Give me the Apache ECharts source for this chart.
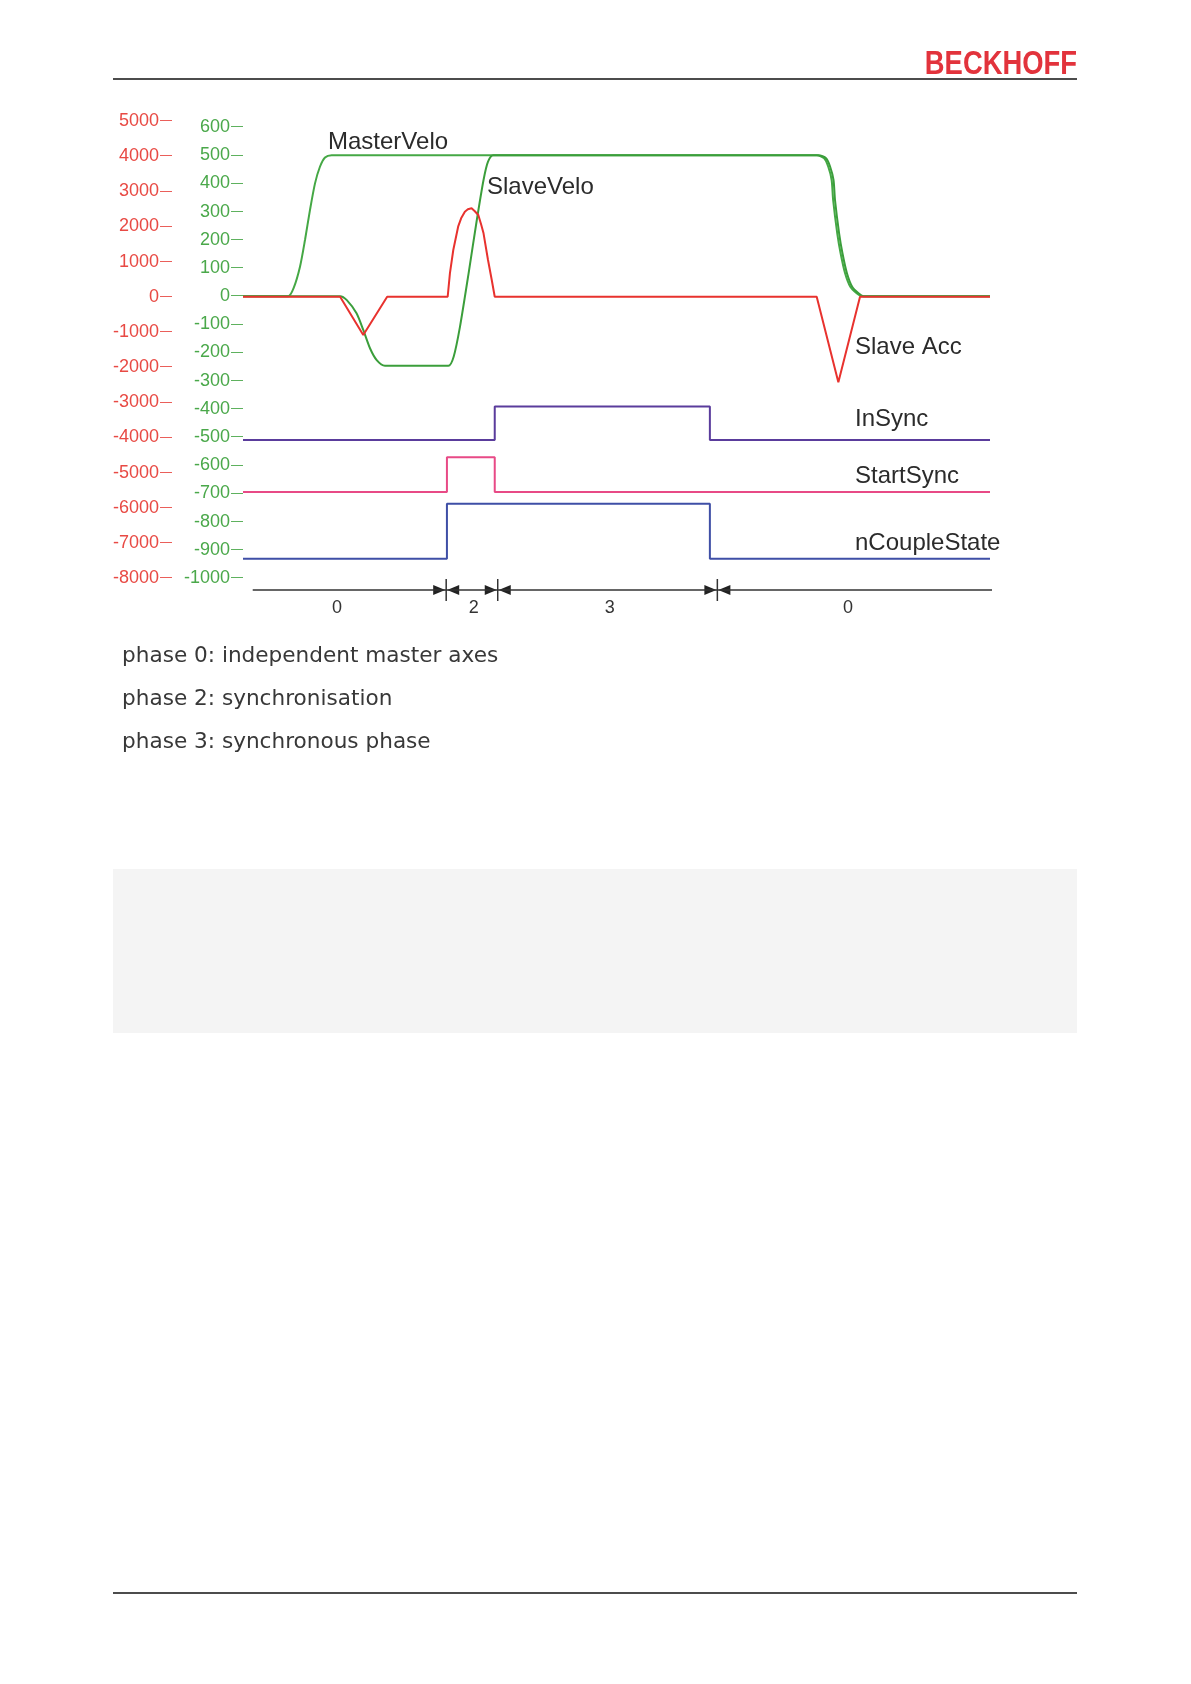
<!DOCTYPE html>
<html>
<head>
<meta charset="utf-8">
<script src="https://cdn.jsdelivr.net/npm/echarts@6/dist/echarts.min.js"></script>
<style>
html,body{margin:0;padding:0;background:#fff;}
#chart{width:1191px;height:1684px;}
</style>
</head>
<body>
<div id="chart"></div>
<script>
// ---- axis definitions [min, max, interval] ----
const veloAxis = [-1000, 600, 100];
const accAxis = [-8000, 5000, 1000];
const timeRange = [0, 100];

// ---- series values [time, value] ----
const masterVelo = [[0,0],[6.07,0],[6.8,30],[7.63,104],[8.3,199],[8.97,306],[9.64,400],[10.3,459],[10.98,492],[11.87,500],
  [76.8,500],[77.8,489],[78.35,459],[78.8,412],[79.0,341],[79.55,223],[80.0,152],[80.6,81],[81.3,33],[82.15,10],[82.8,0],[100,0]];
const slaveVelo = [[0,0],[13.0,0],[13.9,-14],[15.2,-61],[16.1,-120],[17.0,-185],[17.9,-227],[19.0,-247],[27.5,-247],
  [28.2,-215],[29.05,-108],[30.2,81],[31.3,270],[32.2,412],[32.8,477],[33.5,500],
  [77.05,500],[78.05,489],[78.6,459],[79.05,412],[79.25,341],[79.8,223],[80.25,152],[80.85,81],[81.55,33],[82.4,10],[83.05,0],[100,0]];
const slaveAcc = [[0,0],[13.0,0],[16.1,-1085],[19.3,0],[27.4,0],[27.7,667],[28.15,1330],[28.8,1994],[29.2,2232],[29.7,2421],
  [30.1,2488],[30.6,2516],[31.0,2440],[31.5,2326],[31.9,2042],[32.2,1805],[32.8,1046],[33.3,477],[33.7,0],
  [76.8,0],[79.7,-2430],[82.6,0],[100,0]];
const inSync = [[0,-510],[33.7,-510],[33.7,-392],[62.5,-392],[62.5,-510],[100,-510]];
const startSync = [[0,-695],[27.3,-695],[27.3,-572],[33.7,-572],[33.7,-695],[100,-695]];
const nCoupleState = [[0,-932],[27.3,-932],[27.3,-737],[62.5,-737],[62.5,-932],[100,-932]];

// ---- phase bar ----
const phaseLine = [1.3, 101.3];
const phaseBounds = [27.2, 34.1, 63.5];
const phaseNames = ['0', '2', '3', '0'];
const phaseNameT = [12.6, 30.9, 49.1, 81.0];

const phaseTexts = ['phase 0: independent master axes', 'phase 2: synchronisation', 'phase 3: synchronous phase'];
const curveLabels = ['MasterVelo', 'SlaveVelo', 'Slave Acc', 'InSync', 'StartSync', 'nCoupleState'];

const GREEN = '#45a845', GREEN_TXT = '#4aa84a', RED = '#e8322e', RED_TXT = '#e84a44';
const PURPLE = '#5a3c9c', PINK = '#e84a86', BLUE = '#3f4fa6';
const TXT = '#2b2b2b';
const AXFONT = '"Liberation Sans", Arial, sans-serif';

const chart = echarts.init(document.getElementById('chart'), null, {renderer: 'canvas'});

function lineSeries(name, data, color, x, y, z) {
  return {name, type: 'line', data, xAxisIndex: x, yAxisIndex: y, symbol: 'none', z: z || 2,
    lineStyle: {color, width: 2}, itemStyle: {color}, animation: false};
}
function smoothSeries(name, data, color, x, y) {
  const s = lineSeries(name, data, color, x, y);
  s.smooth = 0.25;
  return s;
}

const labelPos = [[328,142],[487,187],[855,347],[855,419],[855,476],[855,543]];
const phaseTextY = [656, 699, 742];

const graphic = [
  {type:'text', x:1077, y:81, scaleX:0.83, style:{text:'BECKHOFF', font:'bold 33px "Liberation Sans", Arial, sans-serif', fill:'#e2333c', textAlign:'right', textVerticalAlign:'bottom'}},
  {type:'line', shape:{x1:113, y1:79, x2:1077, y2:79}, style:{stroke:'#111', lineWidth:1.5}},
  {type:'rect', shape:{x:113, y:869, width:964, height:164}, style:{fill:'#f4f4f4'}},
  {type:'line', shape:{x1:113, y1:1593, x2:1077, y2:1593}, style:{stroke:'#111', lineWidth:1.5}}
];
curveLabels.forEach((t, i) => graphic.push({type:'text', x:labelPos[i][0], y:labelPos[i][1],
  style:{text:t, font:'24px "Liberation Sans", Arial, sans-serif', fill:TXT, textAlign:'left', textVerticalAlign:'middle'}}));
phaseTexts.forEach((t, i) => graphic.push({type:'text', x:122, y:phaseTextY[i],
  style:{text:t, font:'21.6px "DejaVu Sans", sans-serif', fill:'#383838', textAlign:'left', textVerticalAlign:'middle'}}));

const xAx = (g) => ({type:'value', gridIndex:g, min:timeRange[0], max:timeRange[1], show:false});
const dashLabel = (v) => '{v|' + String(v) + '}{d|\u2014}';
const richFor = (c) => ({
  v:{color:c, fontSize:18, fontFamily:AXFONT, lineHeight:20, verticalAlign:'middle'},
  d:{color:c, fontSize:12, fontFamily:AXFONT, lineHeight:20, verticalAlign:'middle', padding:[0,0,0,1]}
});

const option = {
  backgroundColor: '#fff',
  animation: false,
  grid: [
    {left:243, top:127, width:747, height:451},
    {left:243, top:121, width:747, height:457},
    {left:243, top:580, width:747, height:20}
  ],
  xAxis: [xAx(0), xAx(1), xAx(2)],
  yAxis: [
    {type:'value', gridIndex:0, min:veloAxis[0], max:veloAxis[1], interval:veloAxis[2],
      axisLine:{show:false}, splitLine:{show:false}, axisTick:{show:false},
      axisLabel:{margin:0, formatter:dashLabel, rich:richFor(GREEN_TXT)}},
    {type:'value', gridIndex:1, min:accAxis[0], max:accAxis[1], interval:accAxis[2], offset:71,
      axisLine:{show:false}, splitLine:{show:false}, axisTick:{show:false},
      axisLabel:{margin:0, formatter:dashLabel, rich:richFor(RED_TXT)}},
    {type:'value', gridIndex:2, min:-1, max:1, show:false}
  ],
  graphic,
  series: [
    smoothSeries('MasterVelo', masterVelo, GREEN, 0, 0),
    smoothSeries('SlaveVelo', slaveVelo, '#3b9e3b', 0, 0),
    lineSeries('Slave Acc', slaveAcc, RED, 1, 1, 3),
    lineSeries('InSync', inSync, PURPLE, 0, 0),
    lineSeries('StartSync', startSync, PINK, 0, 0),
    lineSeries('nCoupleState', nCoupleState, BLUE, 0, 0),
    {type:'line', xAxisIndex:2, yAxisIndex:2, data:[[phaseLine[0],0],[phaseLine[1],0]], symbol:'none', clip:false,
      lineStyle:{color:'#333', width:1.5}, animation:false},
    {type:'custom', xAxisIndex:2, yAxisIndex:2, clip:false, data: phaseBounds.map(t => [t, 0]),
      renderItem: (params, api) => {
        const p = api.coord([api.value(0), api.value(1)]);
        const x = p[0], y = p[1];
        return {type:'group', children:[
          {type:'line', shape:{x1:x, y1:y-11, x2:x, y2:y+11}, style:{stroke:'#333', lineWidth:1.5}},
          {type:'polygon', shape:{points:[[x-1,y],[x-13,y-5],[x-13,y+5]]}, style:{fill:'#222'}},
          {type:'polygon', shape:{points:[[x+1,y],[x+13,y-5],[x+13,y+5]]}, style:{fill:'#222'}}
        ]};
      }, animation:false},
    {type:'custom', xAxisIndex:2, yAxisIndex:2, clip:false, data: phaseNameT.map((t, i) => [t, 0, phaseNames[i]]),
      renderItem: (params, api) => {
        const p = api.coord([api.value(0), api.value(1)]);
        return {type:'text', x:p[0], y:p[1]+18, style:{text: phaseNames[params.dataIndex],
          font:'18px "Liberation Sans", Arial, sans-serif', fill:'#333', textAlign:'center', textVerticalAlign:'middle'}};
      }, animation:false}
  ]
};
chart.setOption(option);
</script>
</body>
</html>
